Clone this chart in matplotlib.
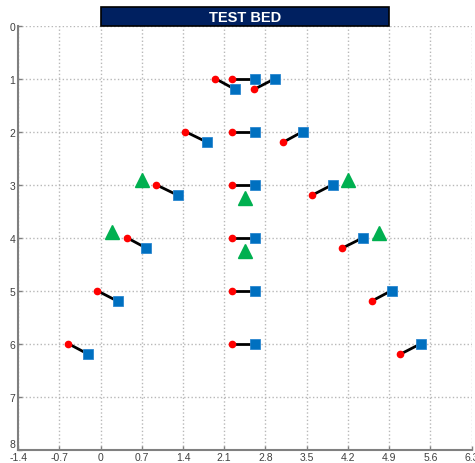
import matplotlib
matplotlib.use("Agg")
import matplotlib.pyplot as plt
from matplotlib.patches import Rectangle
from matplotlib.transforms import blended_transform_factory, ScaledTranslation

# start (red) and goal (blue) of each agent, one row per formation line
start_x = [1.95, 2.24, 2.61, 1.44, 2.24, 3.10, 0.94, 2.24, 3.59,
           0.445, 2.24, 4.10, -0.06, 2.24, 4.60, -0.55, 2.24, 5.09]
start_y = [1.0, 1.0, 1.2, 2.0, 2.0, 2.2, 3.0, 3.0, 3.2,
           4.0, 4.0, 4.2, 5.0, 5.0, 5.2, 6.0, 6.0, 6.2]
goal_x = [2.28, 2.62, 2.96, 1.81, 2.62, 3.43, 1.31, 2.62, 3.94,
          0.78, 2.62, 4.46, 0.29, 2.62, 4.94, -0.21, 2.62, 5.44]
goal_y = [1.2, 1.0, 1.0, 2.2, 2.0, 2.0, 3.2, 3.0, 3.0,
          4.2, 4.0, 4.0, 5.2, 5.0, 5.0, 6.2, 6.0, 6.0]

# obstacles
obs_x = [0.71, 2.45, 4.20, 0.20, 2.45, 4.73]
obs_y = [2.91, 3.26, 2.92, 3.90, 4.25, 3.91]

xticks = [-1.4, -0.7, 0, 0.7, 1.4, 2.1, 2.8, 3.5, 4.2, 4.9, 5.6, 6.3]
xtick_labels = ["-1.4", "-0.7", "0", "0.7", "1.4", "2.1", "2.8", "3.5", "4.2", "4.9", "5.6", "6.3"]
yticks = list(range(9))

plt.rcParams["font.family"] = ["Liberation Sans", "DejaVu Sans"]

fig = plt.figure(figsize=(4.75, 4.64), dpi=100)
ax = fig.add_axes([0.038, 0.029, 0.955, 0.9135])

for sx, sy, gx, gy in zip(start_x, start_y, goal_x, goal_y):
    ax.plot([sx, gx], [sy, gy], color="black", lw=2, zorder=2)
ax.plot(start_x, start_y, "o", color="#ff0000", ms=4.5, mec="#ff0000", zorder=3, ls="none")
ax.plot(goal_x, goal_y, "s", color="#0070c0", ms=6.5, mec="#2a86d0", mew=0.6, zorder=3, ls="none")
ax.plot(obs_x, obs_y, "^", color="#00b050", ms=10, mec="#00b050", zorder=3, ls="none")

ax.set_xlim(-1.4, 6.3)
ax.set_ylim(8, 0)
ax.set_xticks(xticks)
ax.set_xticklabels(xtick_labels)
ax.set_yticks(yticks)
ax.grid(True, ls=":", color="#b8b8b8", lw=1)
ax.set_axisbelow(True)

for s in ["top", "right"]:
    ax.spines[s].set_visible(False)
for s in ["left", "bottom"]:
    ax.spines[s].set_color("#808080")
    ax.spines[s].set_linewidth(1.5)
ax.tick_params(direction="in", length=3, width=1, color="#808080",
               labelsize=7.5, labelcolor="#404040", pad=2)

# lift the bottom y label so it clears the first x label
last = ax.get_yticklabels()[-1]
last.set_transform(last.get_transform() + ScaledTranslation(0, 5 / 72, fig.dpi_scale_trans))

# title bar spanning x = 0 .. 4.9 above the plot
trans = blended_transform_factory(ax.transData, ax.transAxes)
ax.add_patch(Rectangle((0, 1.0), 4.9, 0.043, transform=trans, clip_on=False,
                       fc="#002060", ec="black", lw=1.2))
ax.text(2.45, 1.0215, "TEST BED", transform=trans, ha="center", va="center",
        color="white", fontsize=10.5, fontweight="bold")

fig.savefig("out.png", dpi=100)
